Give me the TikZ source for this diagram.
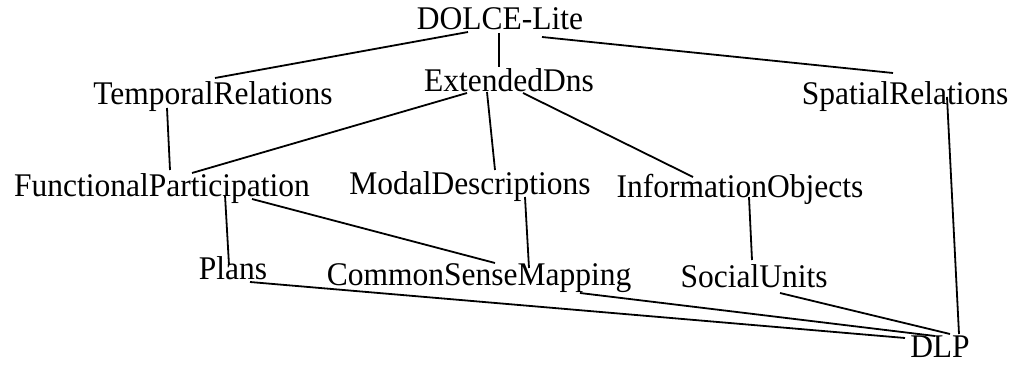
\documentclass[tikz,border=0pt]{standalone}
\usepackage{fontspec}
\setmainfont{Liberation Serif}
\usetikzlibrary{calc}
\newcommand{\tall}[1]{\scalebox{1}[1.05]{#1}}
\tikzset{
  cls/.style={anchor=base, inner sep=0pt, font=\fontsize{31.5}{36}\selectfont},
  link/.style={line width=1.8pt, black}
}
\begin{document}
\begin{tikzpicture}[x=1pt,y=-1pt]
\useasboundingbox (0,0) rectangle (1013,366);
\node[cls] (dolce) at (500,30) {\tall{DOLCE-Lite}};
\node[cls] (tr) at (213,105) {\tall{TemporalRelations}};
\node[cls] (ed) at (509,92) {\tall{ExtendedDns}};
\node[cls] (sr) at (905,105) {\tall{SpatialRelations}};
\node[cls] (fp) at (162,197) {\tall{FunctionalParticipation}};
\node[cls] (md) at (470,195) {\tall{ModalDescriptions}};
\node[cls] (io) at (740,198) {\tall{InformationObjects}};
\node[cls] (pl) at (233,280) {\tall{Plans}};
\node[cls] (csm) at (479,286) {\tall{CommonSenseMapping}};
\node[cls] (su) at (754,288) {\tall{SocialUnits}};
\node[cls] (dlp) at (940,358) {\tall{DLP}};
\draw[link] ($(dolce.base)+(-32,2)$) -- ($(tr.base)+(2,-27)$);
\draw[link] ($(dolce.base)+(-1,3)$) -- ($(ed.base)+(-10,-25)$);
\draw[link] ($(dolce.base)+(42,7)$) -- ($(sr.base)+(-12,-32)$);
\draw[link] ($(ed.base)+(-42,1)$) -- ($(fp.base)+(30,-24)$);
\draw[link] ($(ed.base)+(-22,0)$) -- ($(md.base)+(25,-25)$);
\draw[link] ($(ed.base)+(14,1)$) -- ($(io.base)+(-47,-21)$);
\draw[link] ($(tr.base)+(-46,3)$) -- ($(fp.base)+(8,-27)$);
\draw[link] ($(sr.base)+(42,-8)$) -- ($(dlp.base)+(19,-24)$);
\draw[link] ($(fp.base)+(63,-2)$) -- ($(pl.base)+(-4,-15)$);
\draw[link] ($(fp.base)+(90,2)$) -- ($(csm.base)+(16,-23)$);
\draw[link] ($(md.base)+(55,2)$) -- ($(csm.base)+(50,-18)$);
\draw[link] ($(io.base)+(9,-1)$) -- ($(su.base)+(-2,-28)$);
\draw[link] ($(pl.base)+(17,2)$) -- ($(dlp.base)+(-35,-20)$);
\draw[link] ($(csm.base)+(101,7)$) -- ($(dlp.base)+(-5,-22)$);
\draw[link] ($(su.base)+(26,5)$) -- ($(dlp.base)+(10,-24)$);
\end{tikzpicture}
\end{document}
